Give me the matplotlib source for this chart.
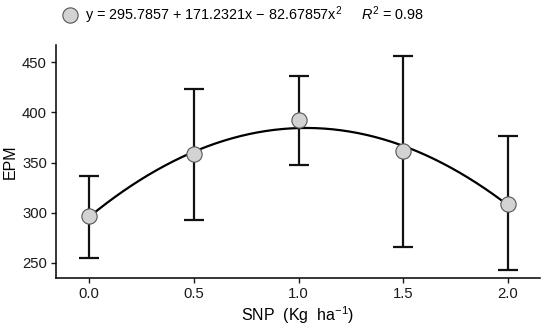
import matplotlib.pyplot as plt
import numpy as np
from matplotlib.lines import Line2D

plt.rcParams["font.family"] = ["Liberation Sans", "DejaVu Sans"]
plt.rcParams["mathtext.fontset"] = "custom"
plt.rcParams["mathtext.rm"] = "Liberation Sans"
plt.rcParams["mathtext.it"] = "Liberation Sans:italic"

snp = [0.0, 0.5, 1.0, 1.5, 2.0]
epm_mean = [297, 358.5, 392, 361, 309]
epm_low = [255, 293, 348, 266, 243]
epm_high = [337, 423, 436, 456, 376]
coef = [295.7857, 171.2321, -82.67857]
x_ticks = [0.0, 0.5, 1.0, 1.5, 2.0]
y_ticks = [250, 300, 350, 400, 450]

mean = np.array(epm_mean)
yerr = [mean - np.array(epm_low), np.array(epm_high) - mean]

fig = plt.figure(figsize=(5.5, 3.29), dpi=100)
ax = fig.add_axes([0.1018, 0.155, 0.88, 0.708])

xs = np.linspace(0, 2, 200)
ax.plot(xs, coef[0] + coef[1] * xs + coef[2] * xs ** 2, color="black", lw=1.6, zorder=2)
ax.errorbar(snp, epm_mean, yerr=yerr, fmt="none", ecolor="#111111",
            elinewidth=1.6, capsize=7.5, capthick=1.6, zorder=1)
ax.plot(snp, epm_mean, "o", ms=11, mfc="#d3d3d3", mec="#555555", mew=0.8, zorder=3)

ax.set_xlim(-0.158, 2.153)
ax.set_ylim(235, 467)
ax.set_xticks(x_ticks)
ax.set_xticklabels([f"{v:.1f}" for v in x_ticks])
ax.set_yticks(y_ticks)
for side in ["top", "right"]:
    ax.spines[side].set_visible(False)
for side in ["left", "bottom"]:
    ax.spines[side].set_linewidth(1.1)
ax.tick_params(direction="out", length=3.5, width=1.0, labelsize=10.7, colors="#1a1a1a", pad=3)
ax.set_xlabel(r"SNP  (Kg  ha$^{-1}$)", fontsize=11.5, labelpad=2)
ax.set_ylabel("EPM", fontsize=11.5, labelpad=3)

handle = Line2D([], [], ls="none", marker="o", ms=11, mfc="#d3d3d3", mec="#555555", mew=0.8)
label = r"y = 295.7857 + 171.2321x − 82.67857x$^{2}$     $\it{R}^{2}$ = 0.98"
fig.legend([handle], [label], loc="center left", bbox_to_anchor=(0.1145, 0.954),
           frameon=False, handlelength=1, handletextpad=0.5, borderpad=0,
           borderaxespad=0, fontsize=10.4)

fig.savefig("out.png", dpi=100)
